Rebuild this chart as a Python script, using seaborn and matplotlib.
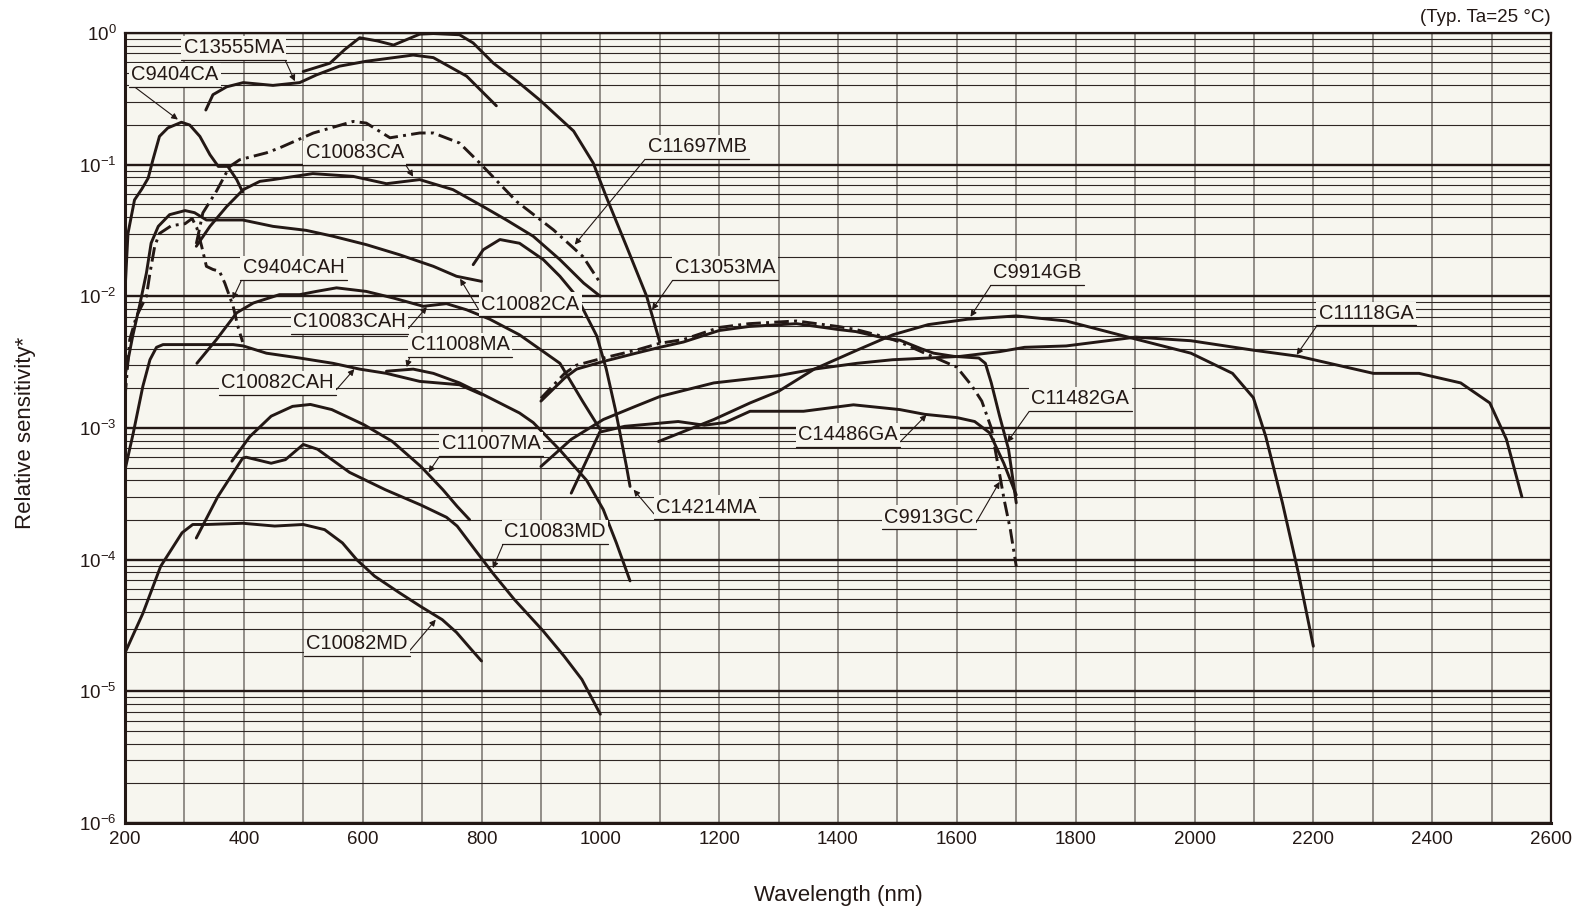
import numpy as np
import matplotlib
matplotlib.use("Agg")
import matplotlib.pyplot as plt
from matplotlib.lines import Line2D
from matplotlib.ticker import MultipleLocator, LogLocator, NullFormatter
import seaborn as sns

# ── Data (wavelength in nm, relative sensitivity) ─────────────────────────────

C9404CA_NM = [200, 205, 216, 228, 239, 247, 258, 272, 295, 309, 326, 343, 357, 373, 388, 398]
C9404CA_REL = [0.0109, 0.030, 0.054, 0.065, 0.079, 0.109, 0.164, 0.19, 0.21, 0.20, 0.164, 0.119, 0.097, 0.097, 0.077, 0.062]

C9404CAH_NM = [200, 208, 219, 236, 242, 250, 258, 278, 301, 313, 321, 329, 337, 348, 359, 368, 382, 390, 398]
C9404CAH_REL = [0.0017, 0.0047, 0.0070, 0.0100, 0.0150, 0.024, 0.030, 0.0344, 0.0356, 0.039, 0.033, 0.024, 0.0169, 0.0160, 0.0155, 0.0126, 0.0084, 0.0059, 0.0045]

C10082CA_NM = [200, 213, 225, 236, 244, 256, 275, 301, 317, 337, 398, 449, 505, 550, 606, 662, 719, 758, 800]
C10082CA_REL = [0.0025, 0.0050, 0.0087, 0.015, 0.0254, 0.034, 0.0417, 0.0448, 0.0432, 0.038, 0.038, 0.034, 0.0317, 0.0286, 0.0247, 0.0207, 0.0169, 0.0142, 0.0130]

C10083CA_NM = [320, 343, 371, 399, 427, 449, 516, 584, 640, 696, 752, 803, 842, 887, 932, 972, 1000]
C10083CA_REL = [0.024, 0.034, 0.048, 0.0646, 0.0747, 0.077, 0.0855, 0.0815, 0.0717, 0.077, 0.0646, 0.048, 0.038, 0.0286, 0.019, 0.0126, 0.0100]

C11697MB_NM = [320, 331, 354, 376, 393, 438, 460, 517, 584, 606, 646, 696, 719, 763, 797, 859, 921, 971, 1000]
C11697MB_REL = [0.025, 0.043, 0.063, 0.0966, 0.109, 0.123, 0.134, 0.174, 0.213, 0.207, 0.160, 0.174, 0.174, 0.146, 0.103, 0.0526, 0.032, 0.020, 0.0126]

C13555MA_NM = [336, 348, 371, 399, 449, 494, 522, 561, 606, 685, 719, 775, 825]
C13555MA_REL = [0.26, 0.34, 0.39, 0.42, 0.40, 0.42, 0.48, 0.56, 0.61, 0.68, 0.65, 0.47, 0.28]

C13053MA_NM = [500, 545, 570, 595, 625, 652, 696, 719, 763, 786, 820, 860, 898, 955, 988, 1010, 1044, 1078, 1100]
C13053MA_REL = [0.51, 0.59, 0.75, 0.92, 0.87, 0.81, 0.98, 0.99, 0.97, 0.84, 0.59, 0.43, 0.31, 0.18, 0.103, 0.057, 0.024, 0.010, 0.0045]

C14214MA_NM = [786, 803, 831, 864, 904, 932, 960, 994, 1010, 1025, 1033, 1044, 1050]
C14214MA_REL = [0.0174, 0.0226, 0.027, 0.0253, 0.019, 0.0142, 0.010, 0.005, 0.0028, 0.0014, 0.00092, 0.00051, 0.00036]

C10083CAH_NM = [321, 354, 388, 416, 460, 494, 522, 556, 606, 652, 702, 741, 775, 814, 864, 932, 970, 1000]
C10083CAH_REL = [0.0031, 0.0047, 0.0075, 0.0089, 0.0103, 0.0103, 0.0109, 0.0116, 0.0109, 0.0097, 0.0084, 0.0088, 0.0079, 0.0067, 0.0051, 0.0031, 0.0016, 0.00097]

C10082CAH_NM = [200, 214, 230, 242, 253, 264, 298, 382, 399, 438, 494, 550, 595, 640, 696, 763, 800]
C10082CAH_REL = [0.00048, 0.00092, 0.00207, 0.0033, 0.0041, 0.0043, 0.0043, 0.0043, 0.0042, 0.0037, 0.0034, 0.0031, 0.0028, 0.0026, 0.00226, 0.00213, 0.0018]

C11008MA_NM = [640, 685, 719, 763, 797, 864, 887, 932, 977, 1005, 1027, 1050]
C11008MA_REL = [0.0027, 0.0028, 0.0026, 0.0022, 0.00185, 0.0013, 0.0011, 0.00068, 0.0004, 0.00024, 0.000134, 0.000069]

C11007MA_NM = [380, 410, 446, 482, 512, 548, 602, 650, 698, 735, 759, 780]
C11007MA_REL = [5.6e-4, 8.6e-4, 1.23e-3, 1.46e-3, 1.51e-3, 1.38e-3, 1.06e-3, 7.9e-4, 5.1e-4, 3.4e-4, 2.54e-4, 2.01e-4]

C10083MD_NM = [320, 356, 398, 404, 446, 470, 500, 524, 578, 638, 698, 741, 759, 789, 819, 855, 903, 939, 969, 1000]
C10083MD_REL = [1.46e-4, 3.0e-4, 5.9e-4, 6.0e-4, 5.4e-4, 5.75e-4, 7.5e-4, 6.9e-4, 4.6e-4, 3.4e-4, 2.6e-4, 2.1e-4,
                1.8e-4, 1.19e-4, 7.9e-5, 5.0e-5, 2.9e-5, 1.85e-5, 1.23e-5, 6.7e-6]

C10082MD_NM = [200, 230, 260, 296, 314, 338, 398, 452, 500, 536, 566, 590, 620, 662, 698, 734, 758, 782, 800]
C10082MD_REL = [1.96e-5, 3.9e-5, 8.9e-5, 1.6e-4, 1.85e-4, 1.85e-4, 1.89e-4, 1.8e-4, 1.85e-4, 1.69e-4, 1.34e-4, 1.0e-4,
                7.5e-5, 5.6e-5, 4.4e-5, 3.5e-5, 2.8e-5, 2.1e-5, 1.7e-5]

C9913GC_NM = [900, 940, 960, 1005, 1060, 1100, 1140, 1200, 1250, 1330, 1400, 1430, 1480, 1504, 1546, 1600, 1625,
              1642, 1658, 1670, 1680, 1690, 1700]
C9913GC_REL = [0.00168, 0.0026, 0.0030, 0.0034, 0.0039, 0.0044, 0.0047, 0.0058, 0.0062, 0.0065, 0.0059, 0.0056, 0.0049,
               0.0045, 0.0037, 0.0029, 0.0021, 0.0016, 0.0010, 0.0005, 0.00028, 0.00017, 0.000089]

C11482GA_NM = [900, 940, 960, 1005, 1060, 1100, 1140, 1200, 1250, 1330, 1400, 1430, 1480, 1504, 1540, 1561, 1595,
               1637, 1648, 1658, 1672, 1687, 1700]
C11482GA_REL = [0.00160, 0.0024, 0.0028, 0.0032, 0.0037, 0.0041, 0.0045, 0.0055, 0.0059, 0.0062, 0.0056, 0.0054, 0.0048,
                0.00465, 0.0040, 0.0037, 0.0035, 0.0034, 0.0031, 0.0022, 0.00123, 0.00069, 0.00027]

C14486GA_NM = [951, 999, 1041, 1131, 1175, 1210, 1252, 1342, 1426, 1504, 1546, 1600, 1630, 1655, 1679, 1700]
C14486GA_REL = [3.2e-4, 9.3e-4, 1.03e-3, 1.12e-3, 1.05e-3, 1.10e-3, 1.34e-3, 1.34e-3, 1.50e-3, 1.38e-3, 1.27e-3,
                1.20e-3, 1.12e-3, 9.2e-4, 5.4e-4, 3.1e-4]

C9914GB_NM = [1098, 1191, 1252, 1300, 1360, 1432, 1492, 1552, 1618, 1700, 1784, 1896, 1994, 2064, 2099, 2120, 2148,
              2176, 2200]
C9914GB_REL = [7.9e-4, 0.00116, 0.00155, 0.0019, 0.0028, 0.0039, 0.0051, 0.0061, 0.0067, 0.0071, 0.0065, 0.0048, 0.0037,
               0.0026, 0.0017, 8.6e-4, 2.7e-4, 7.5e-5, 2.2e-5]

C11118GA_NM = [900, 951, 1005, 1059, 1101, 1191, 1300, 1360, 1432, 1492, 1552, 1606, 1672, 1714, 1784, 1901, 1994,
               2099, 2176, 2301, 2378, 2448, 2497, 2525, 2551]
C11118GA_REL = [5.1e-4, 8.2e-4, 0.00116, 0.00146, 0.00174, 0.0022, 0.0025, 0.0028, 0.0031, 0.0033, 0.0034, 0.0035,
                0.0038, 0.0041, 0.0042, 0.0049, 0.0046, 0.0039, 0.0035, 0.0026, 0.0026, 0.0022, 0.00155, 8.2e-4, 3.0e-4]

# (name, wavelengths, values, dash-dot?)
CURVES = [
    ("C9404CA", C9404CA_NM, C9404CA_REL, False),
    ("C9404CAH", C9404CAH_NM, C9404CAH_REL, True),
    ("C10082CA", C10082CA_NM, C10082CA_REL, False),
    ("C10083CA", C10083CA_NM, C10083CA_REL, False),
    ("C11697MB", C11697MB_NM, C11697MB_REL, True),
    ("C13555MA", C13555MA_NM, C13555MA_REL, False),
    ("C13053MA", C13053MA_NM, C13053MA_REL, False),
    ("C14214MA", C14214MA_NM, C14214MA_REL, False),
    ("C10083CAH", C10083CAH_NM, C10083CAH_REL, False),
    ("C10082CAH", C10082CAH_NM, C10082CAH_REL, False),
    ("C11008MA", C11008MA_NM, C11008MA_REL, False),
    ("C11007MA", C11007MA_NM, C11007MA_REL, False),
    ("C10083MD", C10083MD_NM, C10083MD_REL, False),
    ("C10082MD", C10082MD_NM, C10082MD_REL, False),
    ("C11482GA", C11482GA_NM, C11482GA_REL, False),
    ("C9913GC", C9913GC_NM, C9913GC_REL, True),
    ("C14486GA", C14486GA_NM, C14486GA_REL, False),
    ("C9914GB", C9914GB_NM, C9914GB_REL, False),
    ("C11118GA", C11118GA_NM, C11118GA_REL, False),
]

# ── Label layout: text centre, arrow tip, which bottom corner the leader leaves from
LABELS = {
    "C13555MA":  (383, 0.77, 486, 0.43, 1),
    "C9404CA":   (284, 0.48, 289, 0.22, 0),
    "C10083CA":  (587, 0.123, 685, 0.081, 1),
    "C11697MB":  (1163, 0.137, 957, 0.0247, 0),
    "C13053MA":  (1210, 0.0165, 1087, 0.0079, 0),
    "C9404CAH":  (484, 0.0165, 381, 0.0095, 0),
    "C10082CA":  (882, 0.0087, 764, 0.0136, 0),
    "C10083CAH": (578, 0.0064, 708, 0.0083, 1),
    "C11008MA":  (764, 0.0043, 674, 0.0029, 0),
    "C10082CAH": (457, 0.0022, 586, 0.0028, 1),
    "C11007MA":  (816, 7.6e-4, 711, 4.6e-4, 0),
    "C10083MD":  (924, 1.63e-4, 819, 8.6e-5, 0),
    "C10082MD":  (590, 2.3e-5, 723, 3.5e-5, 1),
    "C14214MA":  (1179, 2.5e-4, 1056, 3.4e-4, 0),
    "C9914GB":   (1735, 0.0151, 1623, 0.0070, 0),
    "C11118GA":  (2289, 0.0074, 2172, 0.0036, 0),
    "C11482GA":  (1808, 0.00167, 1685, 7.8e-4, 0),
    "C14486GA":  (1417, 8.9e-4, 1549, 0.00126, 1),
    "C9913GC":   (1553, 2.1e-4, 1672, 3.9e-4, 1),
}

INK = "#231815"
PAPER = "#f7f6ef"

sns.set_theme(style="white")
plt.rcParams["font.family"] = ["Liberation Sans", "DejaVu Sans"]
plt.rcParams["mathtext.fontset"] = "custom"
plt.rcParams["mathtext.rm"] = "Liberation Sans"

W, H = 1578, 918
fig = plt.figure(figsize=(W / 100, H / 100), dpi=100)
ax = fig.add_axes([125 / W, 1 - 823 / H, (1551 - 125) / W, (823 - 33) / H])
ax.set_facecolor(PAPER)
ax.set_yscale("log")
ax.set_xlim(200, 2600)
ax.set_ylim(1e-6, 1)

# ── Curves ────────────────────────────────────────────────────────────────────
for name, nm, rel, dashdot in CURVES:
    ls = (0, (5, 1.8, 1.0, 1.8)) if dashdot else "-"
    sns.lineplot(x=nm, y=rel, ax=ax, color=INK, linewidth=2.1, linestyle=ls,
                 sort=False, estimator=None, zorder=3,
                 solid_joinstyle="round", dash_joinstyle="round")

# ── Grid / axes ───────────────────────────────────────────────────────────────
ax.set_axisbelow(True)
ax.xaxis.set_major_locator(MultipleLocator(200))
ax.xaxis.set_minor_locator(MultipleLocator(100))
ax.yaxis.set_major_locator(LogLocator(base=10, numticks=10))
ax.yaxis.set_minor_locator(LogLocator(base=10, subs=np.arange(2, 10), numticks=12))
ax.yaxis.set_minor_formatter(NullFormatter())
decades = [10.0 ** -k for k in range(6, -1, -1)]
ax.set_yticks(decades)
ax.set_yticklabels([r"$\mathregular{10^{%d}}$" % int(np.log10(d)) for d in decades])

ax.grid(axis="x", which="both", color="#77716c", lw=1.1)
ax.grid(axis="y", which="major", color=INK, lw=1.7)
ax.grid(axis="y", which="minor", color="#2e2623", lw=0.8)
ax.tick_params(which="both", length=0, pad=6, labelsize=13.5, colors=INK)
ax.set_xlabel("")
ax.set_ylabel("")

for side, sp in ax.spines.items():
    sp.set_color(INK)
    sp.set_linewidth(2.2 if side in ("left", "bottom") else 1.6)
    sp.set_zorder(8)

fig.text(838 / W, 1 - 895 / H, "Wavelength (nm)", ha="center", va="center",
         fontsize=16, color=INK)
fig.text(25 / W, 1 - 433 / H, "Relative sensitivity*", ha="center", va="center",
         rotation=90, fontsize=16, color=INK)
fig.text(1551 / W, 1 - 17 / H, "(Typ. Ta=25 °C)", ha="right", va="center",
         fontsize=13.5, color=INK)

# ── Curve labels with leader arrows ───────────────────────────────────────────
anns = []
for name, (tx, ty, px, py, corner) in LABELS.items():
    ann = ax.annotate(
        name, xy=(px, py), xytext=(tx, ty), textcoords="data",
        ha="center", va="center", fontsize=14.5, color=INK,
        bbox=dict(boxstyle="square,pad=0.12", fc=PAPER, ec="none"),
        arrowprops=dict(arrowstyle="-|>", color=INK, lw=0.8, mutation_scale=9,
                        shrinkA=0, shrinkB=0, relpos=(corner, 0)),
        zorder=6,
    )
    anns.append(ann)

fig.canvas.draw()
renderer = fig.canvas.get_renderer()
inv = fig.transFigure.inverted()
for ann in anns:
    bb = ann.get_bbox_patch().get_window_extent(renderer)
    (x0, y0), (x1, _) = inv.transform([(bb.x0, bb.y0), (bb.x1, bb.y0)])
    fig.add_artist(Line2D([x0, x1], [y0, y0], transform=fig.transFigure,
                          color=INK, lw=0.9, zorder=7))

fig.savefig("out.png", dpi=100, facecolor="white")
